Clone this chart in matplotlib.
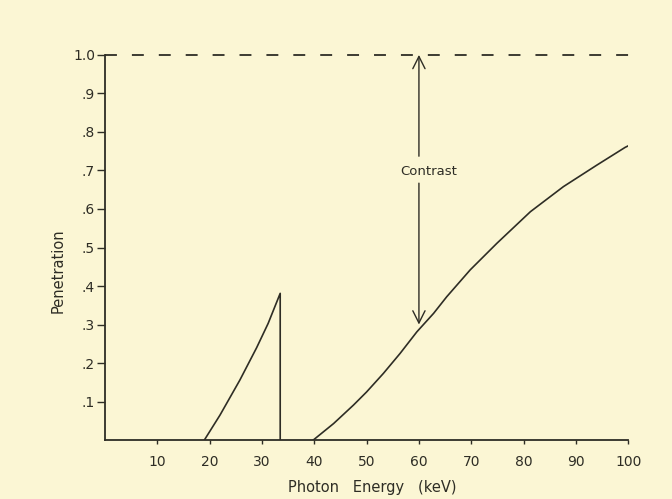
import matplotlib
matplotlib.use("Agg")
import matplotlib.pyplot as plt

# penetration vs photon energy
low_energy = [19.0, 22.0, 25.8, 29.0, 31.2, 33.5, 33.5]
low_pen = [0.0, 0.065, 0.156, 0.24, 0.303, 0.381, 0.0]

high_energy = [39.8, 43.7, 47.5, 50.0, 53.2, 56.4, 59.6, 62.8, 65.3, 69.8,
               74.9, 81.3, 87.6, 94.0, 99.4, 100.0]
high_pen = [0.0, 0.043, 0.091, 0.125, 0.173, 0.225, 0.281, 0.329, 0.372, 0.442,
            0.511, 0.593, 0.658, 0.714, 0.760, 0.764]

x_ticks = [10, 20, 30, 40, 50, 60, 70, 80, 90, 100]
y_ticks = [0.1, 0.2, 0.3, 0.4, 0.5, 0.6, 0.7, 0.8, 0.9, 1.0]
y_labels = [".1", ".2", ".3", ".4", ".5", ".6", ".7", ".8", ".9", "1.0"]

contrast_x = 60
contrast_low = 0.30
contrast_high = 1.0

bg = "#fbf6d4"
ink = "#2e2d25"

fig = plt.figure(figsize=(6.72, 4.99), dpi=100)
fig.patch.set_facecolor(bg)
ax = fig.add_axes([0.156, 0.118, 0.779, 0.772])
ax.set_facecolor(bg)

ax.plot(low_energy, low_pen, color=ink, lw=1.2)
ax.plot(high_energy, high_pen, color=ink, lw=1.2)

# full penetration reference
ax.plot([0, 100.5], [1.0, 1.0], color=ink, lw=1.3, dashes=(6.6, 8.3), clip_on=False)

# contrast arrow, split around the label
ax.annotate("", xy=(contrast_x, contrast_high), xytext=(contrast_x, 0.737),
            arrowprops=dict(arrowstyle="->", color=ink, lw=1.0,
                            mutation_scale=22, shrinkA=0, shrinkB=0))
ax.annotate("", xy=(contrast_x, contrast_low), xytext=(contrast_x, 0.667),
            arrowprops=dict(arrowstyle="->", color=ink, lw=1.0,
                            mutation_scale=22, shrinkA=0, shrinkB=0))
ax.text(contrast_x + 1.8, 0.697, "Contrast", ha="center", va="center",
        fontsize=9.5, color=ink, fontweight="medium")

ax.set_xlim(0, 100)
ax.set_ylim(0, 1.0)
ax.set_xticks(x_ticks)
ax.set_xticklabels([str(v) for v in x_ticks])
ax.set_yticks(y_ticks)
ax.set_yticklabels(y_labels)

ax.spines["top"].set_visible(False)
ax.spines["right"].set_visible(False)
for s in ("left", "bottom"):
    ax.spines[s].set_color(ink)
    ax.spines[s].set_linewidth(1.3)

ax.tick_params(axis="both", colors=ink, labelsize=10, width=1.0)
ax.tick_params(axis="x", length=3, pad=8)
ax.tick_params(axis="y", length=6, pad=1)

ax.set_xlabel("Photon   Energy   (keV)", fontsize=10.5, color=ink)
ax.xaxis.set_label_coords(0.51, -0.104)
ax.set_ylabel("Penetration", fontsize=10.5, color=ink)
ax.yaxis.set_label_coords(-0.075, 0.44)

fig.savefig("out.png", dpi=100, facecolor=bg)
